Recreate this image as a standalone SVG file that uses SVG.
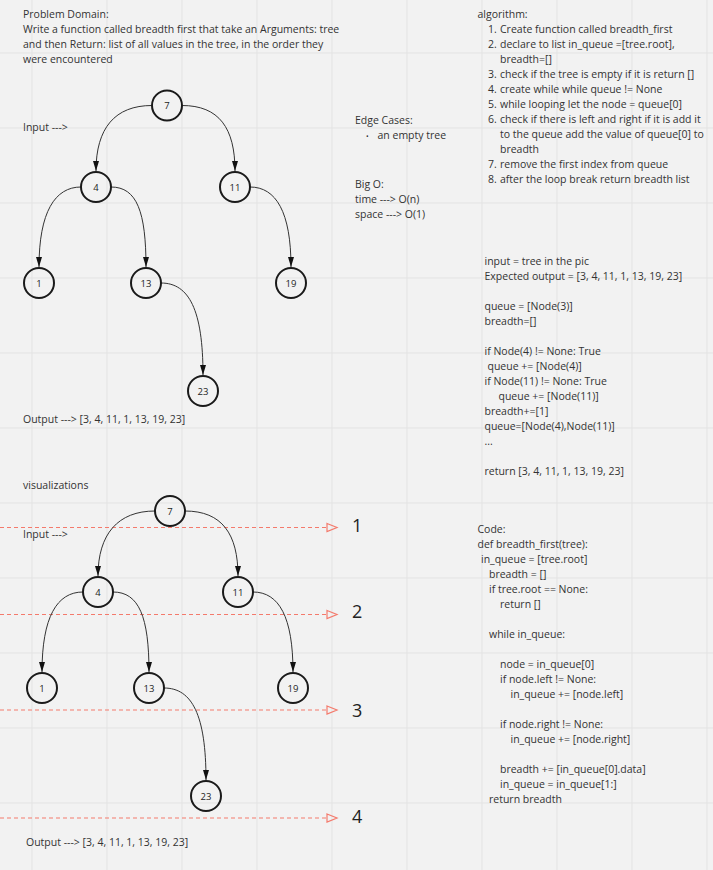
<svg xmlns="http://www.w3.org/2000/svg" width="713" height="870" viewBox="0 0 713 870">
<defs>
<style>
.t{font-family:"Open Sans","Liberation Sans",sans-serif;font-size:10.5px;fill:#333}
.n circle{fill:none;stroke:#1a1a1a;stroke-width:2}
.n text{font-family:"Open Sans","Liberation Sans",sans-serif;font-size:9.5px;fill:#222;text-anchor:middle}
.e{fill:none;stroke:#333;stroke-width:1}
.d{fill:none;stroke:#f47a6c;stroke-width:1.2;stroke-dasharray:4 3}
.dh{fill:none;stroke:#f47a6c;stroke-width:1.2}
.num{font-family:"Open Sans","Liberation Sans",sans-serif;font-size:18px;fill:#222}
.g{stroke:#e3e3e3;stroke-width:1}
</style>
<marker id="ah" viewBox="0 0 10 6" refX="10" refY="3" markerWidth="10" markerHeight="6" markerUnits="userSpaceOnUse" orient="auto">
<path d="M0,0 L10,3 L0,6 Z" fill="#111"/>
</marker>
</defs>
<rect width="713" height="870" fill="#f2f2f2"/>
<g id="grid" class="g">
<path d="M32,0V870M107,0V870M182,0V870M257,0V870M332,0V870M407,0V870M482,0V870M557,0V870M632,0V870M707,0V870"/>
<path d="M0,53H713M0,128H713M0,203H713M0,278H713M0,353H713M0,428H713M0,503H713M0,578H713M0,653H713M0,728H713M0,803H713"/>
</g>

<g id="problem" class="t">
<text x="23" y="18">Problem Domain:</text>
<text x="23" y="33">Write a function called breadth first that take an Arguments: tree</text>
<text x="23" y="48">and then Return: list of all values in the tree, in the order they</text>
<text x="23" y="63">were encountered</text>
<text x="23" y="131">Input ---&gt;</text>
<text x="23" y="423">Output ---&gt; [3, 4, 11, 1, 13, 19, 23]</text>
</g>

<g id="edge-cases" class="t">
<text x="355" y="124">Edge Cases:</text>
<text x="366" y="139" style="font-size:7px">•</text>
<text x="377.5" y="139">an empty tree</text>
<text x="355" y="188">Big O:</text>
<text x="355" y="203">time ---&gt; O(n)</text>
<text x="355" y="218">space ---&gt; O(1)</text>
</g>

<g id="algorithm" class="t">
<text x="477.5" y="18">algorithm:</text>
<text x="488" y="33">1.</text><text x="500" y="33">Create function called breadth_first</text>
<text x="488" y="48">2.</text><text x="500" y="48">declare to list in_queue =[tree.root],</text>
<text x="500" y="63">breadth=[]</text>
<text x="488" y="78">3.</text><text x="500" y="78">check if the tree is empty if it is return []</text>
<text x="488" y="93">4.</text><text x="500" y="93">create while while queue != None</text>
<text x="488" y="108">5.</text><text x="500" y="108">while looping let the node = queue[0]</text>
<text x="488" y="123">6.</text><text x="500" y="123">check if there is left and right if it is add it</text>
<text x="500" y="138">to the queue add the value of queue[0] to</text>
<text x="500" y="153">breadth</text>
<text x="488" y="168">7.</text><text x="500" y="168">remove the first index from queue</text>
<text x="488" y="183">8.</text><text x="500" y="183">after the loop break return breadth list</text>
</g>

<g id="example" class="t">
<text x="484.5" y="265">input = tree in the pic</text>
<text x="484.5" y="280">Expected output = [3, 4, 11, 1, 13, 19, 23]</text>
<text x="484.5" y="310">queue = [Node(3)]</text>
<text x="484.5" y="325">breadth=[]</text>
<text x="484.5" y="355">if Node(4) != None: True</text>
<text x="487.5" y="370">queue += [Node(4)]</text>
<text x="484.5" y="385">if Node(11) != None: True</text>
<text x="498.5" y="400">queue += [Node(11)]</text>
<text x="484.5" y="415">breadth+=[1]</text>
<text x="484.5" y="430">queue=[Node(4),Node(11)]</text>
<text x="484.5" y="445">...</text>
<text x="484.5" y="475">return [3, 4, 11, 1, 13, 19, 23]</text>
</g>

<g id="code" class="t">
<text x="477.5" y="533">Code:</text>
<text x="477.5" y="548">def breadth_first(tree):</text>
<text x="481" y="563">in_queue = [tree.root]</text>
<text x="489" y="578">breadth = []</text>
<text x="489" y="593">if tree.root == None:</text>
<text x="500" y="608">return []</text>
<text x="489" y="638">while in_queue:</text>
<text x="500" y="668">node = in_queue[0]</text>
<text x="500" y="683">if node.left != None:</text>
<text x="510.5" y="698">in_queue += [node.left]</text>
<text x="500" y="728">if node.right != None:</text>
<text x="510.5" y="743">in_queue += [node.right]</text>
<text x="500" y="773">breadth += [in_queue[0].data]</text>
<text x="500" y="788">in_queue = in_queue[1:]</text>
<text x="489" y="803">return breadth</text>
</g>

<g id="viz" class="t">
<text x="23" y="489">visualizations</text>
<text x="23" y="538">Input ---&gt;</text>
<text x="26" y="846">Output ---&gt; [3, 4, 11, 1, 13, 19, 23]</text>
</g>

<g id="levels">
<path class="d" d="M0,527.5H327"/><path class="dh" d="M327,523.5L337,527.5L327,531.5Z"/>
<path class="d" d="M0,614.5H327"/><path class="dh" d="M327,610.5L337,614.5L327,618.5Z"/>
<path class="d" d="M0,710H327"/><path class="dh" d="M327,706L337,710L327,714Z"/>
<path class="d" d="M0,818H327"/><path class="dh" d="M327,814L337,818L327,822Z"/>
<text class="num" x="352" y="531.5">1</text>
<text class="num" x="352" y="618">2</text>
<text class="num" x="352" y="717">3</text>
<text class="num" x="352" y="823">4</text>
</g>

<g id="connectors">
<path class="e" marker-end="url(#ah)" d="M152,105.5C115,105.5 96,128 96,171"/>
<path class="e" marker-end="url(#ah)" d="M182,105.5C219,105.5 235,128 235,171"/>
<path class="e" marker-end="url(#ah)" d="M81,187C55,187 39,212 39,267"/>
<path class="e" marker-end="url(#ah)" d="M111,187C137,187 146,212 146,267"/>
<path class="e" marker-end="url(#ah)" d="M250,187C276,187 291,212 291,267"/>
<path class="e" marker-end="url(#ah)" d="M161,283C189,283 203,310 203,375"/>

<path class="e" marker-end="url(#ah)" d="M155,511C118,511 98,534 98,576"/>
<path class="e" marker-end="url(#ah)" d="M185,511C222,511 238,534 238,576"/>
<path class="e" marker-end="url(#ah)" d="M83,592C57,592 42,617 42,672"/>
<path class="e" marker-end="url(#ah)" d="M113,592C139,592 149,617 149,672"/>
<path class="e" marker-end="url(#ah)" d="M253,592C279,592 293,617 293,672"/>
<path class="e" marker-end="url(#ah)" d="M164,688C192,688 206,715 206,780"/>
</g>

<g id="t1-n7" class="n" transform="translate(167,105.5)"><circle r="15"/><text y="3.5">7</text></g>
<g id="t1-n4" class="n" transform="translate(96,187)"><circle r="15"/><text y="3.5">4</text></g>
<g id="t1-n11" class="n" transform="translate(235,187)"><circle r="15"/><text y="3.5">11</text></g>
<g id="t1-n1" class="n" transform="translate(39,283)"><circle r="15"/><text y="3.5">1</text></g>
<g id="t1-n13" class="n" transform="translate(146,283)"><circle r="15"/><text y="3.5">13</text></g>
<g id="t1-n19" class="n" transform="translate(291,283)"><circle r="15"/><text y="3.5">19</text></g>
<g id="t1-n23" class="n" transform="translate(203,391)"><circle r="15"/><text y="3.5">23</text></g>

<g id="t2-n7" class="n" transform="translate(170,511)"><circle r="15"/><text y="3.5">7</text></g>
<g id="t2-n4" class="n" transform="translate(98,592)"><circle r="15"/><text y="3.5">4</text></g>
<g id="t2-n11" class="n" transform="translate(238,592)"><circle r="15"/><text y="3.5">11</text></g>
<g id="t2-n1" class="n" transform="translate(42,688)"><circle r="15"/><text y="3.5">1</text></g>
<g id="t2-n13" class="n" transform="translate(149,688)"><circle r="15"/><text y="3.5">13</text></g>
<g id="t2-n19" class="n" transform="translate(293,688)"><circle r="15"/><text y="3.5">19</text></g>
<g id="t2-n23" class="n" transform="translate(206,796)"><circle r="15"/><text y="3.5">23</text></g>
</svg>
